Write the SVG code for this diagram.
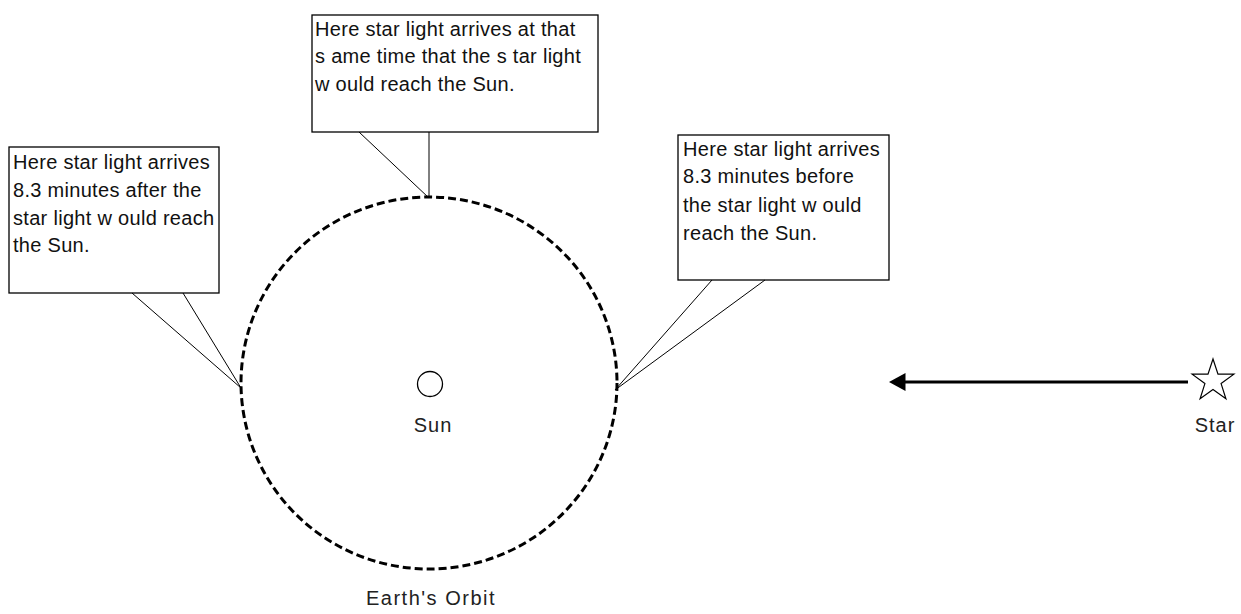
<svg xmlns="http://www.w3.org/2000/svg" width="1241" height="614" viewBox="0 0 1241 614">
<style>
.box{fill:#fff;stroke:#000;stroke-width:1.3}
.tail{fill:none;stroke:#000;stroke-width:1}
.t{font-family:"Liberation Sans",Arial,sans-serif;font-size:20px;fill:#111;letter-spacing:0.3px}
.lbl{font-family:"Liberation Sans",Arial,sans-serif;font-size:20px;fill:#222;text-anchor:middle;letter-spacing:1px}
</style>
<defs>
<marker id="ah" markerWidth="6" markerHeight="6" refX="0.5" refY="3" orient="auto" markerUnits="strokeWidth">
<path d="M0,0 L5.5,3 L0,6 Z" fill="#000"/>
</marker>
</defs>
<rect width="1241" height="614" fill="#fff"/>
<g id="orbit">
<ellipse cx="429" cy="383" rx="188" ry="186" fill="none" stroke="#000" stroke-width="3" stroke-dasharray="8,4"/>
<text class="lbl" x="431" y="605" style="letter-spacing:1.5px">Earth's Orbit</text>
</g>
<g id="sun">
<circle cx="430" cy="384" r="12.5" fill="#fff" stroke="#000" stroke-width="1.3"/>
<text class="lbl" x="433" y="432">Sun</text>
</g>
<g id="star">
<polygon points="1213,359 1218,374.1 1233.9,374.2 1221.1,383.6 1225.9,398.8 1213,389.5 1200.1,398.8 1204.9,383.6 1192.1,374.2 1208,374.1" fill="#fff" stroke="#000" stroke-width="1.2"/>
<text class="lbl" x="1215" y="432">Star</text>
</g>
<g id="connectors">
<line x1="1188" y1="382" x2="904" y2="382" stroke="#000" stroke-width="3" marker-end="url(#ah)"/>
</g>
<g id="callout-left">
<rect class="box" x="9" y="147" width="210" height="146"/>
<polyline class="tail" points="132,293 241,388 183,293"/>
<text class="t" x="13" y="169">Here star light arrives</text>
<text class="t" x="13" y="197">8.3 minutes after the</text>
<text class="t" x="13" y="225">star light w ould reach</text>
<text class="t" x="13" y="252">the Sun.</text>
</g>
<g id="callout-top">
<rect class="box" x="312" y="15" width="286" height="117"/>
<polyline class="tail" points="359,132 429,198 429,132"/>
<text class="t" x="315" y="36">Here star light arrives  at that</text>
<text class="t" x="315" y="63">s ame time that the s tar light</text>
<text class="t" x="315" y="91">w ould reach the Sun.</text>
</g>
<g id="callout-right">
<rect class="box" x="678" y="135" width="211" height="145"/>
<polyline class="tail" points="712,280 615,390 765,280"/>
<text class="t" x="683" y="156">Here star light arrives</text>
<text class="t" x="683" y="183">8.3 minutes before</text>
<text class="t" x="683" y="212">the star light w ould</text>
<text class="t" x="683" y="240">reach the Sun.</text>
</g>
</svg>
